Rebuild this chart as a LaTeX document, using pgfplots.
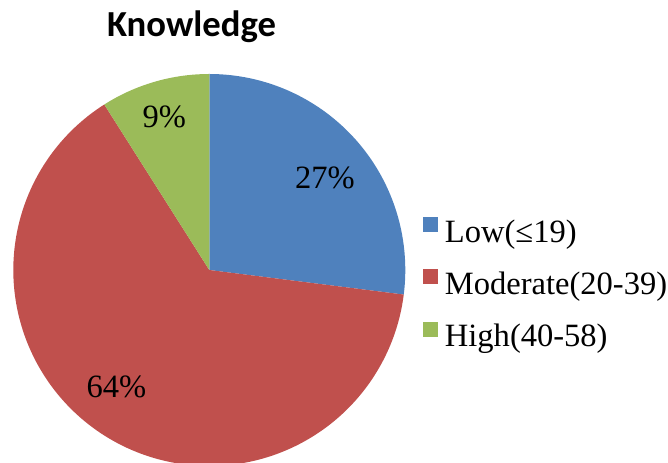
\documentclass[border=0pt]{standalone}
\usepackage{pgfplots}
\pgfplotsset{compat=1.18}
\usepackage{fontspec}
\setmainfont{Liberation Serif}
\newfontfamily\titlefont{Carlito}
\definecolor{cBlue}{HTML}{4F81BD}
\definecolor{cRed}{HTML}{C0504D}
\definecolor{cGreen}{HTML}{9BBB59}
% shares in percent
\def\pLow{27}\def\pMod{64}\def\pHigh{9}
\pgfmathsetmacro\aA{90-3.6*\pLow}
\pgfmathsetmacro\aB{90+3.6*\pHigh}
\pgfmathsetmacro\aC{\aB+3.6*\pMod}
\def\cx{209.3}\def\cy{193}\def\rr{196}
\begin{document}
\begin{tikzpicture}
\begin{axis}[
  width=501pt, height=347.25pt, scale only axis,
  xmin=0, xmax=668, ymin=0, ymax=463,
  axis lines=none, clip=true,
  legend cell align=left,
  legend image code/.code={\fill[#1] (0pt,1.6pt) rectangle (11.25pt,12.85pt);},
  legend style={at={(axis cs:419,463-214)}, anchor=north west, draw=none, fill=none,
    font=\fontsize{24.4}{29}\selectfont, row sep=14.5pt,
    nodes={inner sep=0pt, text height=18pt, text depth=6pt},
    /tikz/every odd column/.append style={column sep=5pt}},
]
\addplot[draw=none, fill=cBlue, domain=\aA:90, samples=90] ({\cx+\rr*cos(x)},{\cy+\rr*sin(x)}) -- (axis cs:\cx,\cy) -- cycle;
\addlegendentry{Low(≤19)}
\addplot[draw=none, fill=cRed, domain=\aB:\aC, samples=200] ({\cx+\rr*cos(x)},{\cy+\rr*sin(x)}) -- (axis cs:\cx,\cy) -- cycle;
\addlegendentry{Moderate(20-39)}
\addplot[draw=none, fill=cGreen, domain=90:\aB, samples=40] ({\cx+\rr*cos(x)},{\cy+\rr*sin(x)}) -- (axis cs:\cx,\cy) -- cycle;
\addlegendentry{High(40-58)}
\node[font=\titlefont\bfseries\fontsize{27.5}{30}\selectfont, anchor=base] at (axis cs:191.5,463-37) {Knowledge};
\node[font=\fontsize{24.4}{29}\selectfont, anchor=base] at (axis cs:325,463-189) {27\%};
\node[font=\fontsize{24.4}{29}\selectfont, anchor=base] at (axis cs:116.5,463-398) {64\%};
\node[font=\fontsize{24.4}{29}\selectfont, anchor=base] at (axis cs:164.2,463-128) {9\%};
\end{axis}
\pgfresetboundingbox
\path (current axis.south west) rectangle (current axis.north east);
\end{tikzpicture}
\end{document}
